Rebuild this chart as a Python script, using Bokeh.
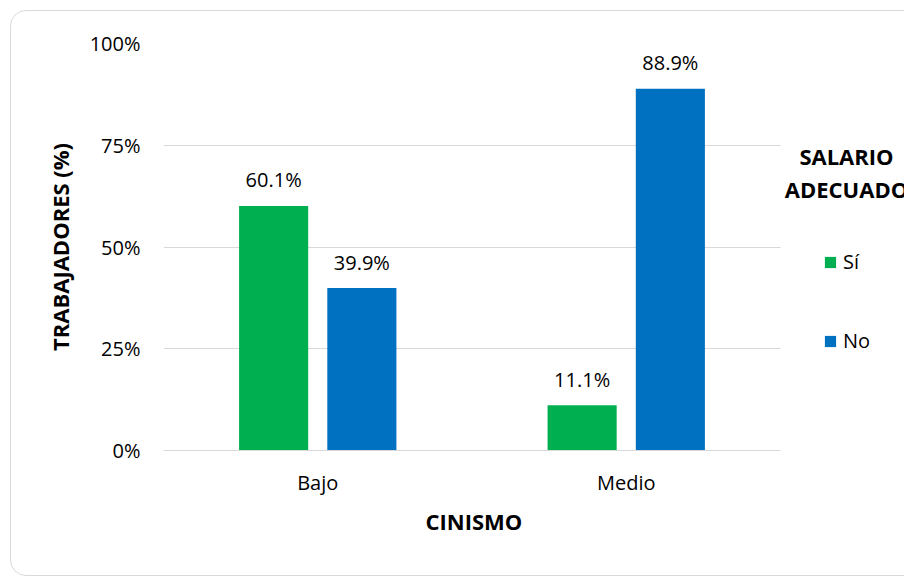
from bokeh.plotting import figure
from bokeh.models import (Range1d, ColumnDataSource, Legend, LegendItem,
                          Label, FixedTicker, InlineStyleSheet, Title)
from bokeh.core.properties import value
from bokeh.embed import file_html
from bokeh.resources import INLINE

categories = ["Bajo", "Medio"]
si_values = [60.1, 11.1]
no_values = [39.9, 88.9]
series_names = ["Sí", "No"]
y_ticks = [0, 25, 50, 75, 100]
y_tick_labels = ["0%", "25%", "50%", "75%", "100%"]
x_title = "CINISMO"
y_title = "TRABAJADORES (%)"
legend_title = ["SALARIO", "ADECUADO"]

FONT = "Open Sans"
GREEN = "#00B050"
BLUE = "#0070C0"
GRID = "#D9D9D9"
TXT = "#000000"

off = 0.143
bw = 0.224
centers = [i + 0.5 for i in range(len(categories))]
n_cat = len(categories)

src = ColumnDataSource(dict(
    xs=[c - off for c in centers],
    xn=[c + off for c in centers],
    si=si_values,
    no=no_values,
    si_lab=[f"{v:.1f}%" for v in si_values],
    no_lab=[f"{v:.1f}%" for v in no_values],
))

p = figure(x_range=Range1d(0, 2.402), y_range=Range1d(0, 100), width=904, height=576,
           output_backend="svg", toolbar_location=None,
           min_border_left=163, min_border_right=0,
           min_border_top=43, min_border_bottom=126)
p.outline_line_color = None
p.background_fill_color = "white"
p.border_fill_color = "white"

r1 = p.vbar(x="xs", top="si", width=bw, source=src, fill_color=GREEN, line_color=None)
r2 = p.vbar(x="xn", top="no", width=bw, source=src, fill_color=BLUE, line_color=None)

for xcol, col in (("xs", "si"), ("xn", "no")):
    p.text(x=xcol, y=col, text=col + "_lab", source=src,
           text_align="center", text_baseline="alphabetic", y_offset=-26,
           text_font=value(FONT), text_font_size="20px", text_color=TXT)

# grid
p.xgrid.visible = False
p.ygrid.ticker = FixedTicker(ticks=y_ticks)
p.ygrid.grid_line_color = GRID
p.ygrid.grid_line_width = 1
p.ygrid.cross_bounds = (0, n_cat)

# y axis
p.yaxis.ticker = FixedTicker(ticks=y_ticks)
p.yaxis.major_label_overrides = {t: l for t, l in zip(y_ticks, y_tick_labels)}
p.yaxis.axis_line_color = None
p.yaxis.major_tick_line_color = None
p.yaxis.minor_tick_line_color = None
p.yaxis.major_tick_out = 0
p.yaxis.major_tick_in = 0
p.yaxis.major_label_standoff = 23
p.yaxis.major_label_text_font = FONT
p.yaxis.major_label_text_font_size = "20px"
p.yaxis.major_label_text_color = TXT
p.yaxis.axis_label = y_title
p.yaxis.axis_label_text_font = FONT
p.yaxis.axis_label_text_font_size = "22px"
p.yaxis.axis_label_text_font_style = "bold"
p.yaxis.axis_label_text_color = TXT
p.yaxis.axis_label_standoff = 12

# x axis
p.xaxis.bounds = (0, n_cat)
p.xaxis.ticker = FixedTicker(ticks=centers)
p.xaxis.major_label_overrides = {c: l for c, l in zip(centers, categories)}
p.xaxis.axis_line_color = GRID
p.xaxis.major_tick_line_color = None
p.xaxis.minor_tick_line_color = None
p.xaxis.major_tick_out = 0
p.xaxis.major_tick_in = 0
p.xaxis.major_label_standoff = 18
p.xaxis.major_label_text_font = FONT
p.xaxis.major_label_text_font_size = "20px"
p.xaxis.major_label_text_color = TXT

# x title, centred under the two categories
p.add_layout(Title(text=x_title, align="left", offset=262, standoff=10,
                   text_font=FONT, text_font_size="22px", text_font_style="bold",
                   text_color=TXT), "below")

# legend
legend = Legend(items=[LegendItem(label=series_names[0], renderers=[r1]),
                       LegendItem(label=series_names[1], renderers=[r2])],
                location=(660, 96), orientation="vertical",
                glyph_width=14, glyph_height=14, label_standoff=6, spacing=52,
                padding=0, margin=0, border_line_color=None, background_fill_alpha=0,
                label_text_font=FONT, label_text_font_size="20px", label_text_color=TXT)
p.add_layout(legend)

for txt, yy in zip(legend_title, (295, 262)):
    p.add_layout(Label(x=683, y=yy, x_units="screen", y_units="screen", text=txt,
                       text_align="center", text_baseline="alphabetic",
                       text_font=FONT, text_font_size="22px", text_font_style="bold",
                       text_color=TXT))

p.stylesheets = [InlineStyleSheet(css="""
:host { position: relative; }
:host::after {
  content: ""; position: absolute; left: 10px; top: 10px; right: -30px; bottom: 0px;
  border: 1.5px solid #D9D9D9; border-radius: 16px; pointer-events: none;
}
""")]

open("out.html", "w").write(file_html(p, INLINE))
